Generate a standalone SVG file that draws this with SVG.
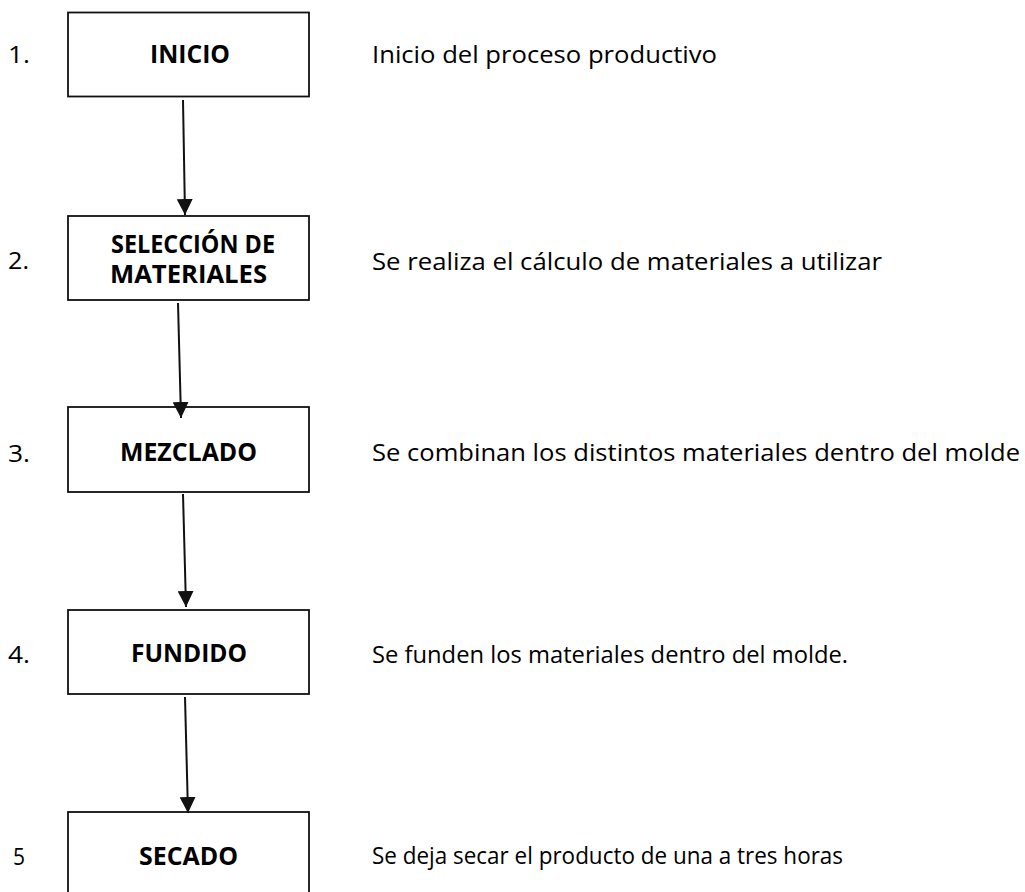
<svg xmlns="http://www.w3.org/2000/svg" width="1025" height="892" viewBox="0 0 1025 892">
<style>
.box{fill:#fff;stroke:#111;stroke-width:1.8}
.t{font-family:"Open Sans","Liberation Sans",sans-serif;font-size:24.5px;font-weight:500;fill:#000}
.b{font-family:"Open Sans","Liberation Sans",sans-serif;font-size:24.5px;font-weight:bold;fill:#000;text-anchor:middle}
.c{stroke:#111;stroke-width:2;fill:none;marker-end:url(#ah)}
</style>
<defs>
<marker id="ah" markerUnits="userSpaceOnUse" viewBox="0 0 16 16" refX="16" refY="8" markerWidth="16" markerHeight="16" orient="auto">
<path d="M0,0 L16,8 L0,16 z" fill="#111"/>
</marker>
</defs>
<rect width="1025" height="892" fill="#fff"/>
<g id="n1">
<text class="t" x="8" y="63" textLength="22" lengthAdjust="spacingAndGlyphs">1.</text>
<rect class="box" x="68" y="12.5" width="241" height="84"/>
<text class="b" x="190" y="63" textLength="80" lengthAdjust="spacingAndGlyphs">INICIO</text>
<text class="t" x="372" y="63" textLength="345" lengthAdjust="spacingAndGlyphs">Inicio del proceso productivo</text>
</g>
<g id="n2">
<text class="t" x="8" y="269" textLength="21" lengthAdjust="spacingAndGlyphs">2.</text>
<rect class="box" x="68" y="216" width="241" height="84"/>
<text class="b" x="193" y="253" textLength="164" lengthAdjust="spacingAndGlyphs">SELECCIÓN DE</text>
<text class="b" x="188.5" y="283" textLength="157" lengthAdjust="spacingAndGlyphs">MATERIALES</text>
<text class="t" x="372" y="270" textLength="510" lengthAdjust="spacingAndGlyphs">Se realiza el cálculo de materiales a utilizar</text>
</g>
<g id="n3">
<text class="t" x="8" y="462" textLength="22" lengthAdjust="spacingAndGlyphs">3.</text>
<rect class="box" x="68" y="407" width="241" height="85"/>
<text class="b" x="188.5" y="461" textLength="137" lengthAdjust="spacingAndGlyphs">MEZCLADO</text>
<text class="t" x="372" y="461" textLength="648" lengthAdjust="spacingAndGlyphs">Se combinan los distintos materiales dentro del molde</text>
</g>
<g id="n4">
<text class="t" x="8" y="663" textLength="22" lengthAdjust="spacingAndGlyphs">4.</text>
<rect class="box" x="68" y="610" width="241" height="84"/>
<text class="b" x="189" y="662" textLength="116" lengthAdjust="spacingAndGlyphs">FUNDIDO</text>
<text class="t" x="372" y="663" textLength="476" lengthAdjust="spacingAndGlyphs">Se funden los materiales dentro del molde.</text>
</g>
<g id="n5">
<text class="t" x="13" y="865" textLength="12" lengthAdjust="spacingAndGlyphs">5</text>
<rect class="box" x="68" y="812" width="241" height="100"/>
<text class="b" x="188.5" y="865" textLength="99" lengthAdjust="spacingAndGlyphs">SECADO</text>
<text class="t" x="372" y="864" textLength="471" lengthAdjust="spacingAndGlyphs">Se deja secar el producto de una a tres horas</text>
</g>
<g id="connectors">
<line class="c" x1="183" y1="100" x2="185" y2="215"/>
<line class="c" x1="178" y1="303" x2="181" y2="418"/>
<line class="c" x1="183" y1="494" x2="186" y2="607"/>
<line class="c" x1="185" y1="697" x2="188" y2="813"/>
</g>
</svg>
